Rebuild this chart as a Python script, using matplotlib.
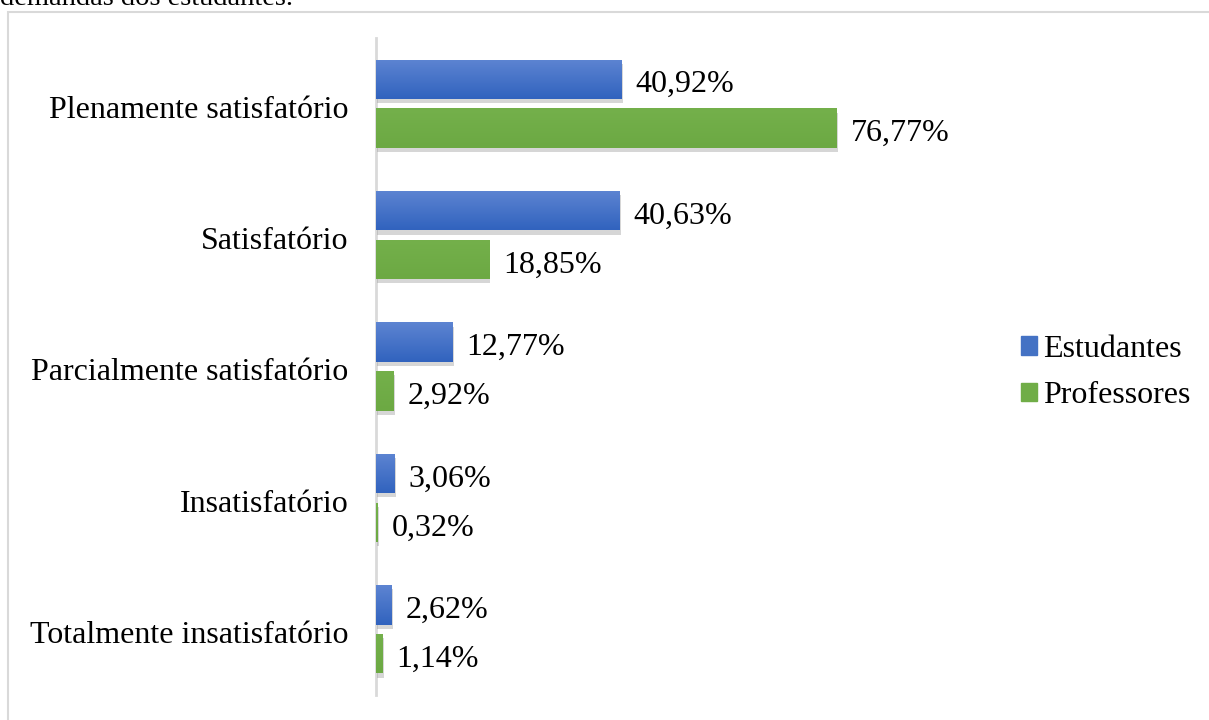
import numpy as np
import matplotlib.pyplot as plt
import matplotlib.patheffects as pe
import matplotlib.transforms as mtrans
from matplotlib.patches import Rectangle
from matplotlib.colors import LinearSegmentedColormap

# Dados do gráfico
categorias = ['Plenamente satisfatório', 'Satisfatório', 'Parcialmente satisfatório',
              'Insatisfatório', 'Totalmente insatisfatório']
estudantes = [40.92, 40.63, 12.77, 3.06, 2.62]
professores = [76.77, 18.85, 2.92, 0.32, 1.14]
series = ['Estudantes', 'Professores']

plt.rcParams['font.family'] = ['Liberation Serif', 'DejaVu Serif']
FS = 23

W, H = 1209, 720
fig = plt.figure(figsize=(W / 100, H / 100), dpi=100)

# Moldura do gráfico e legenda parcial do documento
fig.patches.append(Rectangle((8 / W, -0.1), 1.2, 1 - 12 / H + 0.1, transform=fig.transFigure,
                             facecolor='white', edgecolor='#d9d9d9', linewidth=1.5, zorder=-5))
fig.text(0, 1 - 5 / H, 'demandas dos estudantes.', fontsize=20.5, va='baseline', ha='left')

ax = fig.add_axes([376 / W, 1 - 695 / H, 600 / W, 657 / H])

cores = ['#4472C4', '#70AD47']
# gradiente vertical (claro em cima, escuro embaixo)
gradientes = [LinearSegmentedColormap.from_list('az', ['#5d84d2', '#3163be']),
              LinearSegmentedColormap.from_list('vd', ['#74b04b', '#6ca943'])]
sombra = [pe.SimplePatchShadow(offset=(1, -3), shadow_rgbFace='#8a8a8a', alpha=0.35), pe.Normal()]
pos = range(len(categorias))
desloc = 0.186
alt = 0.30
grad = np.linspace(0, 1, 64).reshape(-1, 1)

for i, (vals, cor, nome) in enumerate(zip([estudantes, professores], cores, series)):
    ys = [p + (-desloc if i == 0 else desloc) for p in pos]
    barras = ax.barh(ys, vals, height=alt, color=cor, label=nome, zorder=3)
    for b in barras:
        b.set_path_effects(sombra)
        x0, y0 = b.get_x(), b.get_y()
        im = ax.imshow(grad, cmap=gradientes[i], aspect='auto', zorder=4,
                       extent=(x0, x0 + b.get_width(), y0 + b.get_height(), y0))
        im.set_clip_path(b)
    for y, v in zip(ys, vals):
        ax.annotate(f'{v:.2f}%'.replace('.', ','), (v, y), xytext=(10, -4),
                    textcoords='offset points', va='center', ha='left', fontsize=FS)

ax.set_xlim(0, 100)
ax.set_ylim(4.5, -0.5)
ax.set_yticks(list(pos))
ax.set_yticklabels(categorias, fontsize=FS)
ax.tick_params(axis='y', length=0, pad=20)
desce = mtrans.ScaledTranslation(0, -3 / 100, fig.dpi_scale_trans)
for t in ax.get_yticklabels():
    t.set_transform(t.get_transform() + desce)
ax.set_xticks([])
for s in ['top', 'right', 'bottom']:
    ax.spines[s].set_visible(False)
ax.spines['left'].set_color('#d9d9d9')
ax.spines['left'].set_linewidth(2)
ax.patch.set_alpha(0)

hs = [Rectangle((0, 0), 1, 1, color=c) for c in cores]
fig.legend(hs, series, loc='upper left', bbox_to_anchor=(992 / W, 1 - 306 / H), frameon=False,
           fontsize=FS, handlelength=0.5, handleheight=0.5, handletextpad=0.2,
           labelspacing=0.55)

fig.savefig('out.png', dpi=100)
